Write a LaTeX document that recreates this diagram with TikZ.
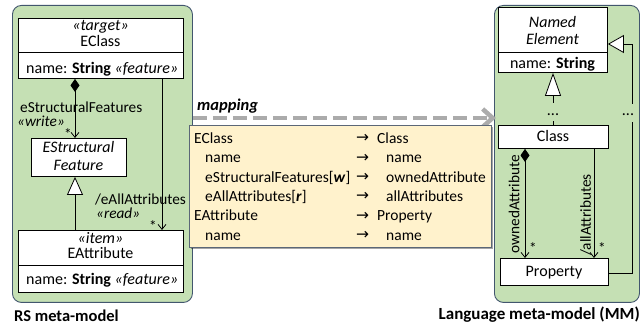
\documentclass[tikz,border=0pt]{standalone}
\usepackage{fontspec}
\setmainfont{Carlito}
\newfontfamily\symfont{DejaVu Sans}
\usetikzlibrary{arrows.meta,shadows}
\definecolor{panelgreen}{HTML}{C5E0B4}
\definecolor{paneledge}{HTML}{42566E}
\definecolor{mapfill}{HTML}{FFF2CC}
\definecolor{mapedge}{HTML}{5B6777}
\definecolor{mapgrey}{HTML}{ABABAB}
\begin{document}
\begin{tikzpicture}[x=1pt,y=-1pt,
  font=\fontsize{16}{19}\selectfont,
  panel/.style={draw=paneledge, fill=panelgreen, line width=0.9pt, rounded corners=9pt,
    anchor=north west, inner sep=0pt},
  umlbox/.style={draw=black, fill=white, line width=0.9pt, anchor=north west, inner sep=0pt},
  txt/.style={inner sep=0pt, anchor=base},
  txtl/.style={inner sep=0pt, anchor=base west},
  endlbl/.style={inner sep=0pt, anchor=base west, font=\fontsize{15.3}{17}\selectfont},
  mult/.style={inner sep=0pt, anchor=base, font=\fontsize{15.3}{17}\selectfont},
  maptxt/.style={inner sep=0pt, anchor=base west, font=\fontsize{15.5}{18}\selectfont},
  rottxt/.style={rotate=90, inner sep=0pt, font=\fontsize{15.3}{17}\selectfont},
  assoc/.style={draw=black, line width=0.8pt},
  navtip/.style={-{Straight Barb[length=5pt,width=8pt]}},
  gentip/.style={-{Triangle[length=#1,width=16pt,fill=white]}},
  gentip/.default=18pt,
  comptip/.style={{Diamond[length=13pt,width=9pt]}-{Straight Barb[length=5pt,width=8pt]}},
  arr/.style={inner sep=0pt, anchor=base west, font=\symfont\fontsize{15.5}{18}\selectfont},
  capt/.style={inner sep=0pt, font=\bfseries\fontsize{16.5}{19}\selectfont},
]
\useasboundingbox (0,0) rectangle (640,328);

% ---------- panels ----------
\node[panel, minimum width=180pt, minimum height=297pt] (lpanel) at (12,5) {};
\node[panel, minimum width=145pt, minimum height=297pt] (rpanel) at (494,5) {};

\node[capt, anchor=base west] (lcap) at (14,322) {RS meta-model};
\node[capt, anchor=base east, font=\bfseries\fontsize{17}{19}\selectfont] (rcap) at (640,319.5) {Language meta-model (MM)};

% ---------- RS meta-model ----------
\node[umlbox, minimum width=165pt, minimum height=60pt] (eclass) at (18,18) {};
\draw[line width=0.9pt] (eclass.west |- 0,52) -- (eclass.east |- 0,52);
\node[txt] (eclassst) at (100.5,31) {\textit{«target»}};
\node[txt] (eclassnm) at (100.5,46.5) {EClass};
\node[txtl] (eclassat) at (26,73.5) {name: \textbf{String} \textit{«feature»}};

\node[umlbox, minimum width=95pt, minimum height=38pt] (esf) at (31,138) {};
\node[txt] (esfa) at (78.5,153) {\textit{EStructural}};
\node[txt] (esfb) at (78.5,170.5) {\textit{Feature}};

\node[umlbox, minimum width=165pt, minimum height=62pt] (eattr) at (18,230) {};
\draw[line width=0.9pt] (eattr.west |- 0,265) -- (eattr.east |- 0,265);
\node[txt] (eattrst) at (100.5,244) {\textit{«item»}};
\node[txt] (eattrnm) at (100.5,259) {EAttribute};
\node[txtl] (eattrat) at (26,284.5) {name: \textbf{String} \textit{«feature»}};

% connectors
\draw[assoc, comptip] (eclass.south -| 75,0) -- (esf.north -| 75,0);
\draw[assoc, navtip] (eclass.south -| 162,0) -- (eattr.north -| 162,0);
\draw[assoc, gentip] (eattr.north -| 75,0) -- (esf.south -| 75,0);

\node[endlbl] (lsf) at (20,112.5) {eStructuralFeatures};
\node[endlbl] (lwr) at (17,126.5) {\textit{«write»}};
\node[mult] (lsfm) at (68,140) {*};
\node[endlbl] (lall) at (95,204.5) {/eAllAttributes};
\node[endlbl] (lrd) at (96,218.5) {\textit{«read»}};
\node[mult] (lallm) at (153,231.5) {*};

% ---------- Language meta-model ----------
\node[umlbox, minimum width=109pt, minimum height=65pt] (ne) at (498,7) {};
\draw[line width=0.9pt] (ne.west |- 0,52) -- (ne.east |- 0,52);
\node[txt] (nea) at (552.5,27.5) {\textit{Named}};
\node[txt] (neb) at (552.5,45) {\textit{Element}};
\node[txt] (neat) at (552.5,68.5) {name: \textbf{String}};

\node[umlbox, minimum width=110pt, minimum height=23pt] (cls) at (498,125) {};
\node[txt] (clsnm) at (553,142) {Class};

\node[umlbox, minimum width=108pt, minimum height=27pt] (prop) at (500,258) {};
\node[txt] (propnm) at (554,277) {Property};

% generalisation Class -> NamedElement, interrupted by dots
\coordinate (ga) at (553,103);
\coordinate (gb) at (553,121);
\draw[assoc] (cls.north -| gb) -- (gb);
\draw[assoc, gentip=23pt] (ga) -- (ne.south -| ga);
\node[txt] (gdots) at (553,116) {...};

% generalisation Property -> NamedElement, routed round the right side
\coordinate (rc1) at (632,273);
\coordinate (rb) at (632,122);
\coordinate (ra) at (632,104);
\coordinate (rc2) at (632,44);
\draw[assoc] (prop.east |- rc1) -- (rc1) -- (rb);
\draw[assoc, -{Triangle[length=16pt,width=18pt,fill=white]}] (ra) -- (rc2) -- (ne.east |- rc2);
\node[txt] (rdots) at (628,116) {...};

% associations Class -> Property
\draw[assoc, comptip] (cls.south -| 525,0) -- (prop.north -| 525,0);
\draw[assoc, navtip] (cls.south -| 594,0) -- (prop.north -| 594,0);
\node[rottxt] (lown) at (514,204) {ownedAttribute};
\node[rottxt] (lalla) at (586,215) {/allAttributes};
\node[mult] (lownm) at (533,254) {*};
\node[mult] (lallam) at (602,254) {*};

% ---------- mapping ----------
\draw[mapgrey, line width=4.5pt, dash pattern=on 14pt off 6pt,
      -{Straight Barb[length=10pt,width=18pt]}]
  (lpanel.east |- 0,118) -- ([xshift=2pt]rpanel.west |- 0,118);
\node[txtl, font=\bfseries\itshape\fontsize{16.5}{19}\selectfont] (maplbl) at (197,111) {mapping};

\node[draw=mapedge, fill=mapfill, line width=1pt, anchor=north west, inner sep=0pt,
      minimum width=302pt, minimum height=122pt,
      drop shadow={shadow xshift=1.5pt, shadow yshift=-1.5pt, opacity=0.35, fill=black}] (mapbox) at (189,125) {};

\node[maptxt] (m1l) at (194,143.5) {EClass};
\node[maptxt] (m2l) at (205,163) {name};
\node[maptxt] (m3l) at (205,182.5) {eStructuralFeatures[\textbf{\textit{w}}]};
\node[maptxt] (m4l) at (205,201.5) {eAllAttributes[\textbf{\textit{r}}]};
\node[maptxt] (m5l) at (194,221) {EAttribute};
\node[maptxt] (m6l) at (205,240.5) {name};

\node[arr] (m1a) at (356,143) {→};
\node[arr] (m2a) at (356,162.5) {→};
\node[arr] (m3a) at (356,182) {→};
\node[arr] (m4a) at (356,201) {→};
\node[arr] (m5a) at (356,220.5) {→};
\node[arr] (m6a) at (356,240) {→};

\node[maptxt] (m1r) at (377,143.5) {Class};
\node[maptxt] (m2r) at (386,163) {name};
\node[maptxt] (m3r) at (386,182.5) {ownedAttribute};
\node[maptxt] (m4r) at (386,201.5) {allAttributes};
\node[maptxt] (m5r) at (377,221) {Property};
\node[maptxt] (m6r) at (386,240.5) {name};
\end{tikzpicture}
\end{document}
